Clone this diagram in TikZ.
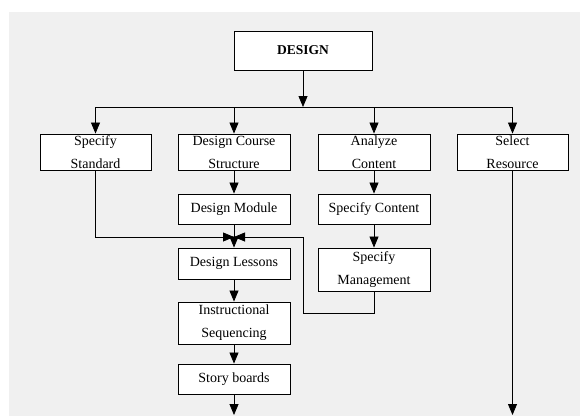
\documentclass[tikz,border=0pt]{standalone}
\usepackage{fontspec}
\setmainfont{Liberation Serif}
\usetikzlibrary{arrows.meta}
\definecolor{bgpanel}{HTML}{F0F0F0}
\begin{document}
\begin{tikzpicture}[x=1pt,y=-1pt,
  box/.style={draw=black, line width=0.9pt, fill=white, minimum width=112pt,
    inner sep=0pt, align=center, font=\fontsize{14}{23}\selectfont},
  link/.style={line width=0.8pt, draw=black},
  arr/.style={link, -{Triangle[length=11pt,width=9pt]}}]
  \useasboundingbox (0,0) rectangle (580,416);
  \fill[bgpanel] (9,12) rectangle (580,416);

  % top of the hierarchy
  \node[box, minimum width=138pt, minimum height=39pt, font=\fontsize{13.5}{16}\selectfont\bfseries]
    (design) at (303,50.5) {DESIGN};

  % first level
  \node[box, minimum width=111pt, minimum height=36pt] (std)     at (95.5,152) {Specify\\Standard};
  \node[box, minimum height=36pt] (course)  at (234,152) {Design Course\\Structure};
  \node[box, minimum height=36pt] (analyze) at (374,152) {Analyze\\Content};
  \node[box, minimum width=111pt, minimum height=36pt] (select)  at (512.5,152) {Select\\Resource};

  % course branch
  \node[box, minimum height=30pt] (module)  at (234,209)   {Design Module};
  \node[box, minimum height=31pt] (lessons) at (234,263.5) {Design Lessons};
  \node[box, minimum height=42pt] (instr)   at (234,323)   {Instructional\\Sequencing};
  \node[box, minimum height=30pt] (story)   at (234,379)   {Story boards};

  % content branch
  \node[box, minimum height=30pt] (content) at (374,209)   {Specify Content};
  \node[box, minimum height=43pt] (mgmt)    at (374,269.5) {Specify\\Management};

  % helper points
  \coordinate (bus)   at (303,107);
  \coordinate (jn)    at (234,237);
  \coordinate (loop)  at (303,313);
  \coordinate (endA)  at (234,415);
  \coordinate (endB)  at (512.5,415);

  % distribution bus
  \draw[arr] (design) -- (bus);
  \draw[link] (std.north |- bus) -- (select.north |- bus);
  \foreach \n in {std,course,analyze,select}
    \draw[arr] (\n.north |- bus) -- (\n.north);

  % vertical chains
  \draw[arr] (course) -- (module);
  \draw[arr] (module) -- (lessons);
  \draw[arr] (lessons) -- (instr);
  \draw[arr] (instr) -- (story);
  \draw[arr] (story) -- (endA);
  \draw[arr] (analyze) -- (content);
  \draw[arr] (content) -- (mgmt);
  \draw[arr] (select) -- (endB);

  % feeds into the lessons junction
  \draw[arr] (std.south) |- (jn);
  \draw[arr] (mgmt.south) |- (loop) |- (jn);
\end{tikzpicture}
\end{document}
